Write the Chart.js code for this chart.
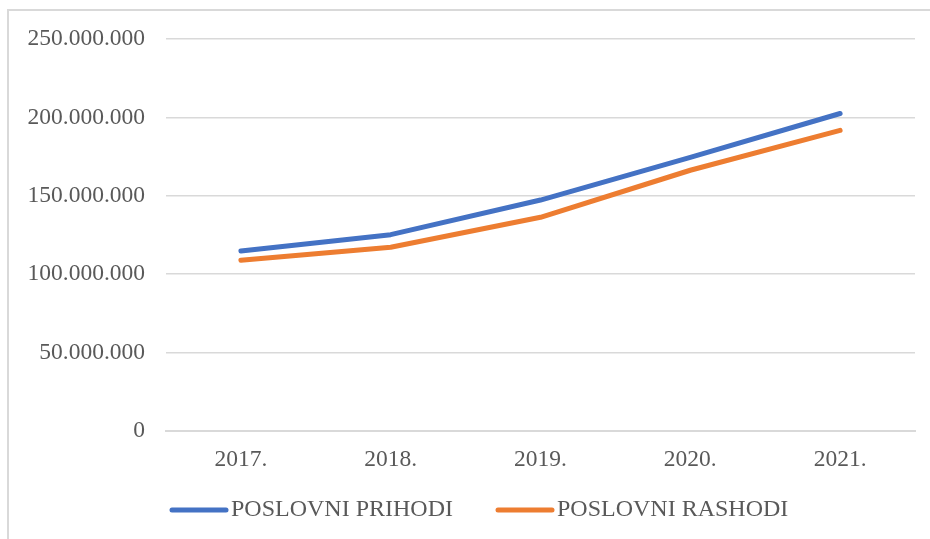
<!DOCTYPE html>
<html>
<head>
<meta charset="utf-8">
<script src="https://cdn.jsdelivr.net/npm/chart.js@4"></script>
<style>
  html, body { margin: 0; padding: 0; background: #fff; }
  #wrap { position: relative; width: 930px; height: 539px; overflow: hidden; }
  #frame { position: absolute; left: 7px; top: 9px; width: 940px; height: 560px;
           border-left: 2px solid #d9d9d9; border-top: 2px solid #d9d9d9; }
  canvas { position: absolute; left: 0; top: 0; }
</style>
</head>
<body>
<div id="wrap">
  <div id="frame"></div>
  <canvas id="chart" width="930" height="539"></canvas>
</div>
<script>
const years = ['2017.', '2018.', '2019.', '2020.', '2021.'];
const prihodi = [114800000, 125200000, 147300000, 174500000, 202500000];
const rashodi = [108900000, 117200000, 136300000, 166300000, 191700000];
const yTicks = [0, 50000000, 100000000, 150000000, 200000000, 250000000];

const FONT = '"Liberation Serif", "Times New Roman", serif';
const TEXT = '#595959';

function fmt(v) {
  if (v === 0) return '0';
  return String(v).replace(/\B(?=(\d{3})+(?!\d))/g, '.');
}

// legend drawn under the axis, line swatch close to the text like in the original
const lineLegend = {
  id: 'lineLegend',
  afterDraw(chart) {
    const c = chart.ctx;
    const items = [
      { x: 172, label: 'POSLOVNI PRIHODI', color: chart.data.datasets[0].borderColor },
      { x: 498, label: 'POSLOVNI RASHODI', color: chart.data.datasets[1].borderColor }
    ];
    const y = 510;
    c.save();
    c.font = '24px ' + FONT;
    c.textBaseline = 'middle';
    items.forEach(it => {
      c.strokeStyle = it.color;
      c.lineWidth = 5;
      c.lineCap = 'round';
      c.beginPath();
      c.moveTo(it.x, y);
      c.lineTo(it.x + 54, y);
      c.stroke();
      c.fillStyle = TEXT;
      c.fillText(it.label, it.x + 59, y);
    });
    c.restore();
  }
};

new Chart(document.getElementById('chart'), {
  type: 'line',
  data: {
    labels: years,
    datasets: [
      { label: 'POSLOVNI PRIHODI', data: prihodi, borderColor: '#4472c4', backgroundColor: '#4472c4',
        borderWidth: 5, pointRadius: 0, borderCapStyle: 'round', borderJoinStyle: 'round' },
      { label: 'POSLOVNI RASHODI', data: rashodi, borderColor: '#ed7d31', backgroundColor: '#ed7d31',
        borderWidth: 5, pointRadius: 0, borderCapStyle: 'round', borderJoinStyle: 'round' }
    ]
  },
  options: {
    responsive: false,
    animation: false,
    layout: { padding: { left: 0, right: 15, top: 39, bottom: 0 } },
    plugins: {
      legend: { display: false },
      tooltip: { enabled: false }
    },
    scales: {
      x: {
        offset: true,
        grid: { display: false, drawTicks: false },
        border: { display: true, color: '#d9d9d9', width: 2 },
        ticks: { color: TEXT, font: { family: FONT, size: 23.5 }, padding: 15 },
        afterFit(s) { s.height = 108; }
      },
      y: {
        min: 0,
        max: 250000000,
        afterBuildTicks(s) { s.ticks = yTicks.map(v => ({ value: v })); },
        grid: { color: '#d9d9d9', lineWidth: 1.5, drawTicks: false },
        border: { display: false },
        ticks: { color: TEXT, font: { family: FONT, size: 23.5 }, padding: 21, callback: v => fmt(v) },
        afterFit(s) { s.width = 166; }
      }
    }
  },
  plugins: [lineLegend]
});
</script>
</body>
</html>
